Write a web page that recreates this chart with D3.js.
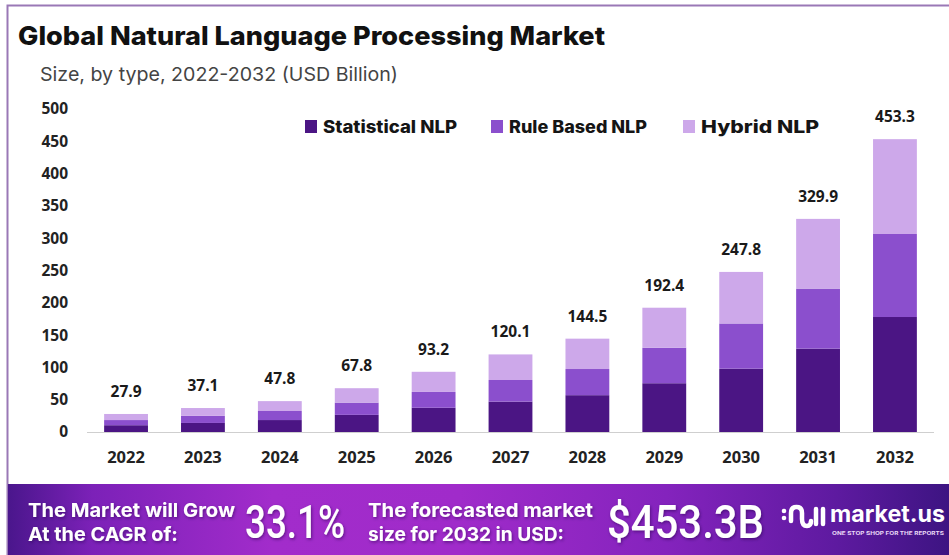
<!DOCTYPE html>
<html>
<head>
<meta charset="utf-8">
<script src="https://cdn.jsdelivr.net/npm/d3@7"></script>
<style>
  html, body { margin: 0; padding: 0; background: #ffffff; }
  svg { display: block; }
</style>
</head>
<body>
<svg id="chart" width="949" height="555"></svg>
<script>
// Market size by NLP type, USD billion
const years = ["2022","2023","2024","2025","2026","2027","2028","2029","2030","2031","2032"];
const statistical = [10.5, 14.0, 18.5, 26.5, 37.5, 47.0, 57.0, 75.5, 98.0, 129.0, 178.0];
const ruleBased   = [ 8.0, 11.0, 14.0, 19.0, 24.5, 33.5, 40.5, 55.0, 70.0,  93.0, 128.5];
const hybrid      = [ 9.4, 12.1, 15.3, 22.3, 31.2, 39.6, 47.0, 61.9, 79.8, 107.9, 146.8];
const totals      = [27.9, 37.1, 47.8, 67.8, 93.2, 120.1, 144.5, 192.4, 247.8, 329.9, 453.3];
const seriesNames = ["Statistical NLP", "Rule Based NLP", "Hybrid NLP"];
const yTicks = [0, 50, 100, 150, 200, 250, 300, 350, 400, 450, 500];
const colors = ["#4b1584", "#8b4fcd", "#cda8ea"];

const svg = d3.select("#chart");
const W = 949, H = 555;

const defs = svg.append("defs");
const grad = defs.append("linearGradient").attr("id", "bannerGrad")
  .attr("x1", "0%").attr("x2", "100%").attr("y1", "0%").attr("y2", "0%");
[["0%", "#4a168c"], ["9%", "#7c21b8"], ["28%", "#a22ccb"], ["48%", "#a02bca"],
 ["70%", "#8423bd"], ["88%", "#5e1aa0"], ["100%", "#3d1482"]]
  .forEach(([o, c]) => grad.append("stop").attr("offset", o).attr("stop-color", c));

const shadow = defs.append("filter").attr("id", "txtShadow")
  .attr("x", "-10%").attr("y", "-20%").attr("width", "120%").attr("height", "140%");
shadow.append("feDropShadow").attr("dx", 1).attr("dy", 1.5).attr("stdDeviation", 1.5)
  .attr("flood-color", "#2a0050").attr("flood-opacity", 0.55);

// page background and frame
svg.append("rect").attr("width", W).attr("height", H).attr("fill", "#ffffff");
svg.append("rect").attr("x", 7.5).attr("y", 5.5).attr("width", 980).attr("height", 600)
  .attr("fill", "#ffffff").attr("stroke", "#9a78b6").attr("stroke-width", 2);

// title block
svg.append("text").attr("x", 18).attr("y", 45)
  .attr("font-family", "Inter, 'Open Sans', sans-serif").attr("font-weight", 800)
  .attr("font-size", 26).attr("fill", "#111")
  .attr("textLength", 587).attr("lengthAdjust", "spacingAndGlyphs")
  .text("Global Natural Language Processing Market");
svg.append("text").attr("x", 40).attr("y", 81)
  .attr("font-family", "Inter, 'Open Sans', sans-serif").attr("font-weight", 400)
  .attr("font-size", 19).attr("fill", "#444")
  .attr("textLength", 358).attr("lengthAdjust", "spacingAndGlyphs")
  .text("Size, by type, 2022-2032 (USD Billion)");

// scales
const x = d3.scaleBand().domain(years).range([87.6, 933.4])
  .paddingInner(0.43).paddingOuter(0.215);
const y = d3.scaleLinear().domain([0, 500]).range([432, 109]);

// y axis labels
const yAxis = svg.append("g").attr("transform", "translate(70,0)")
  .call(d3.axisLeft(y).tickValues(yTicks).tickSize(0).tickPadding(2));
yAxis.select(".domain").remove();
yAxis.selectAll("text")
  .attr("font-family", "'Open Sans', sans-serif").attr("font-weight", 700)
  .attr("font-size", 15.5).attr("fill", "#222");

// stacked bars
const rows = years.map((yr, i) => ({ year: yr, s0: statistical[i], s1: ruleBased[i], s2: hybrid[i] }));
const stack = d3.stack().keys(["s0", "s1", "s2"]);
const layers = stack(rows);
svg.append("g").selectAll("g").data(layers).join("g")
  .attr("fill", (d, i) => colors[i])
  .selectAll("rect").data(d => d).join("rect")
  .attr("x", d => x(d.data.year))
  .attr("width", x.bandwidth())
  .attr("y", d => y(d[1]))
  .attr("height", d => y(d[0]) - y(d[1]));

// baseline
svg.append("line").attr("x1", 87).attr("x2", 934).attr("y1", 432.5).attr("y2", 432.5)
  .attr("stroke", "#cfcfcf").attr("stroke-width", 1.2);

// x axis labels
const xAxis = svg.append("g").attr("transform", "translate(0,432)")
  .call(d3.axisBottom(x).tickSize(0).tickPadding(19));
xAxis.select(".domain").remove();
xAxis.selectAll("text")
  .attr("font-family", "'Open Sans', sans-serif").attr("font-weight", 700)
  .attr("font-size", 16.5).attr("fill", "#222");

// total labels
svg.append("g").selectAll("text").data(years).join("text")
  .attr("x", d => x(d) + x.bandwidth() / 2)
  .attr("y", (d, i) => y(totals[i]) - 17)
  .attr("text-anchor", "middle")
  .attr("font-family", "'Open Sans', sans-serif").attr("font-weight", 700)
  .attr("font-size", 15.5).attr("fill", "#1a1a1a")
  .text((d, i) => totals[i].toFixed(1));

// legend
const legendX = [305, 491, 683];
const legendW = [134, 138, 118];
const legend = svg.append("g").selectAll("g").data(seriesNames).join("g")
  .attr("transform", (d, i) => `translate(${legendX[i]},120)`);
legend.append("rect").attr("width", 12).attr("height", 13).attr("y", 0)
  .attr("fill", (d, i) => colors[i]);
legend.append("text").attr("x", 18).attr("y", 13)
  .attr("font-family", "Inter, 'Open Sans', sans-serif").attr("font-weight", 800)
  .attr("font-size", 17).attr("fill", "#151515")
  .attr("textLength", (d, i) => legendW[i]).attr("lengthAdjust", "spacingAndGlyphs")
  .text(d => d);

// bottom banner
svg.append("rect").attr("x", 8).attr("y", 484).attr("width", W - 8).attr("height", H - 484)
  .attr("fill", "url(#bannerGrad)");
const banner = svg.append("g").attr("fill", "#ffffff").attr("filter", "url(#txtShadow)");
const smallFont = "Inter, 'Open Sans', sans-serif";
const bannerText = (tx, ty, str, len) => banner.append("text").attr("x", tx).attr("y", ty)
  .attr("font-family", smallFont).attr("font-weight", 700).attr("font-size", 19)
  .attr("textLength", len).attr("lengthAdjust", "spacingAndGlyphs").text(str);
bannerText(28, 517, "The Market will Grow", 207);
bannerText(28, 541, "At the CAGR of:", 150);
bannerText(368, 517, "The forecasted market", 225);
bannerText(368, 541, "size for 2032 in USD:", 196);
banner.append("text").attr("x", 245).attr("y", 538).attr("font-family", "Roboto, sans-serif")
  .attr("font-weight", 500).attr("font-size", 46)
  .attr("textLength", 100).attr("lengthAdjust", "spacingAndGlyphs").text("33.1%");
banner.append("text").attr("x", 607).attr("y", 538).attr("font-family", "Roboto, sans-serif")
  .attr("font-weight", 500).attr("font-size", 46)
  .attr("textLength", 157).attr("lengthAdjust", "spacingAndGlyphs").text("$453.3B");

// market.us mark
const logo = svg.append("g").attr("transform", "translate(781,505)")
  .attr("fill", "none").attr("stroke", "#ffffff").attr("stroke-width", 4.5)
  .attr("stroke-linecap", "round");
logo.append("circle").attr("cx", 3).attr("cy", 6).attr("r", 2.3).attr("fill", "#fff").attr("stroke", "none");
logo.append("circle").attr("cx", 3).attr("cy", 13).attr("r", 2.3).attr("fill", "#fff").attr("stroke", "none");
logo.append("path").attr("d", "M10,16 L10,8 Q10,2 15.5,2 Q21,2 21,8 L21,14 Q21,21 26,21 Q30,21 30,16");
logo.append("line").attr("x1", 35).attr("y1", 4).attr("x2", 35).attr("y2", 19);
logo.append("line").attr("x1", 42).attr("y1", 4).attr("x2", 42).attr("y2", 19);
svg.append("text").attr("x", 830).attr("y", 522).attr("fill", "#fff")
  .attr("font-family", "Inter, sans-serif").attr("font-weight", 700).attr("font-size", 23)
  .attr("textLength", 115).attr("lengthAdjust", "spacingAndGlyphs")
  .text("market.us");
svg.append("text").attr("x", 832).attr("y", 535).attr("fill", "#e8d8f6")
  .attr("font-family", "Inter, sans-serif").attr("font-weight", 700).attr("font-size", 5)
  .attr("textLength", 112).attr("lengthAdjust", "spacingAndGlyphs")
  .text("ONE STOP SHOP FOR THE REPORTS");
</script>
</body>
</html>
